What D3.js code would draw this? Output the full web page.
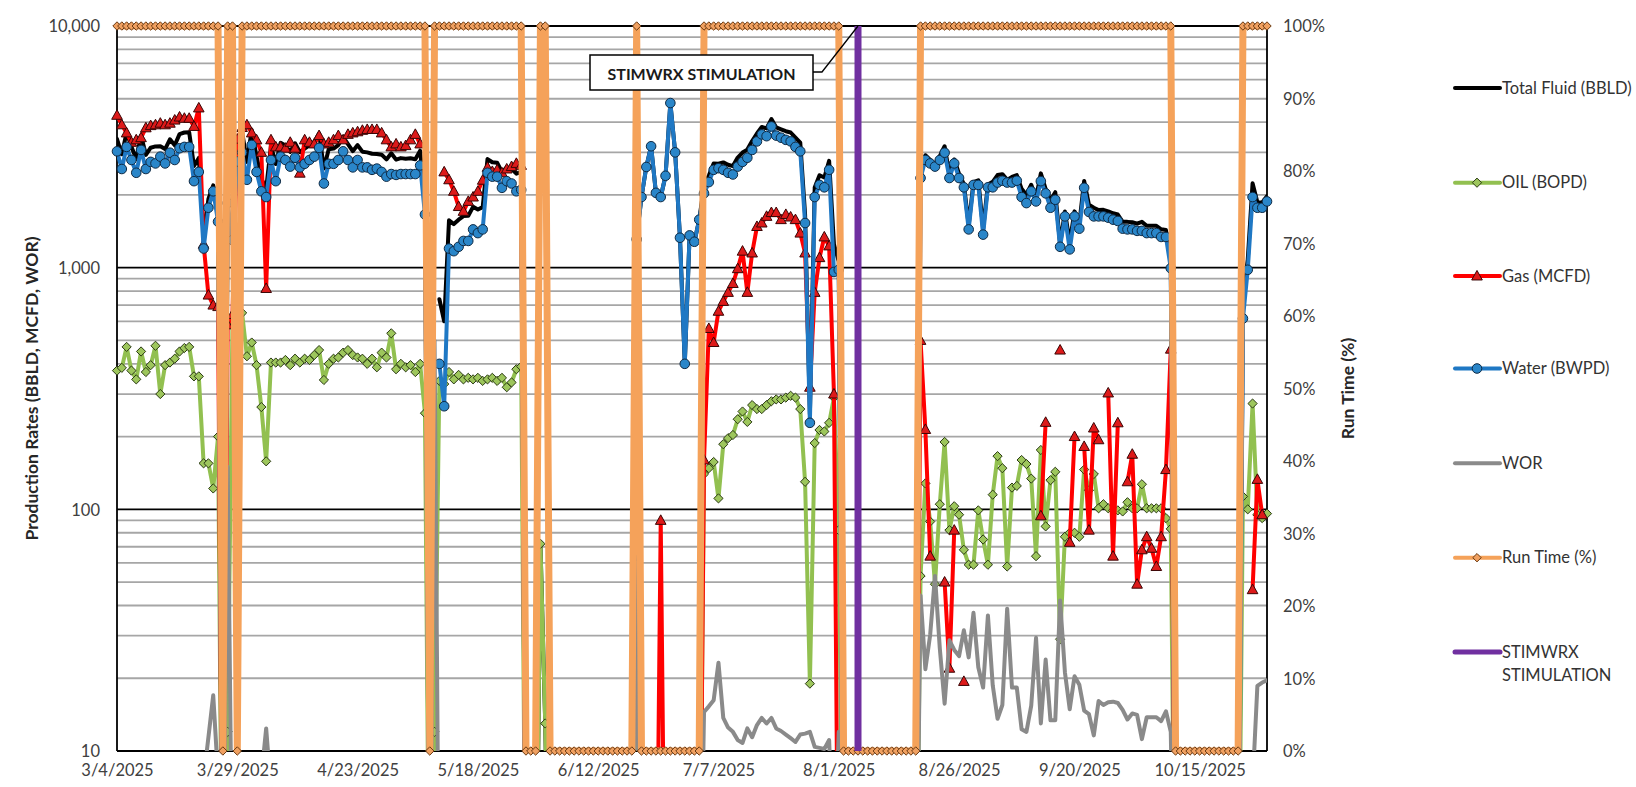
<!DOCTYPE html>
<html>
<head>
<meta charset="utf-8">
<script src="https://cdn.jsdelivr.net/npm/d3@7"></script>
<style>
  html, body { margin: 0; padding: 0; background: #ffffff; }
  svg { display: block; font-family: Lato, "Open Sans", "DejaVu Sans", sans-serif; }
</style>
</head>
<body>
<svg id="chart" width="1636" height="787"></svg>
<script>
// ---- Daily well test data, 3/4/2025 through 10/29/2025 (one value per day) ----
const startDate = "2025-03-04";
const endDate = "2025-10-29";
const stimDate = "2025-08-05";
const stimLabel = "STIMWRX STIMULATION";

const xTickLabels = ["3/4/2025", "3/29/2025", "4/23/2025", "5/18/2025", "6/12/2025",
                     "7/7/2025", "8/1/2025", "8/26/2025", "9/20/2025", "10/15/2025"];
const yTickValues = [10, 100, 1000, 10000];
const y2TickValues = [0, 10, 20, 30, 40, 50, 60, 70, 80, 90, 100];

// null = no reading that day (line breaks)
const totalFluid = [
  3405, 2945, 3630, 3165, 2815, 3520, 2930, 3135, 3175, 3180,
  3095, 3395, 3210, 3570, 3625, 3630, 2635, 2845, 1355, 1925,
  2190, 1750, 0, 1860, 1900, 3370, 3650, 2740, 3710, 2885,
  2335, 2120, 3195, 2685, 3285, 3205, 3015, 3270, 3005, 3110,
  3205, 3315, 3590, 2575, 3090, 3110, 3215, 3475, 3245, 3035,
  3215, 3020, 3000, 2960, 2955, 2935, 2805, 2975, 2800, 2840,
  2825, 2835, 2810, 3050, 1910, 0, null, 740, 600, 1570,
  1515, 1580, 1635, 1640, 1785, 1740, 1780, 2815, 2730, 2720,
  2490, 2600, 2565, 2450, 2490, 0, 0, 0, 72, 13,
  0, 0, 0, 0, 0, 0, 0, 0, 0, 0,
  0, 0, 0, 0, 0, 0, 0, 0, 1332, 1960,
  2610, 3180, 2040, 1960, 2400, 4800, 3000, 1330, 400, 1360,
  1280, 1580, 2170, 2408, 2697, 2691, 2726, 2667, 2633, 2856,
  2994, 3080, 3340, 3590, 3820, 3770, 4120, 3805, 3735, 3670,
  3625, 3450, 3290, 1660, 247, 2148, 2413, 2360, 2768, 1250,
  1062, 0, 0, 0, 0, 0, 0, 0, 0, 0,
  0, 0, 0, 0, 0, 0, 0, 2403, 2918, 2789,
  2669, 2895, 3180, 2432, 2803, 2445, 2218, 1499, 2259, 2299,
  1445, 2209, 2265, 2416, 2438, 2308, 2373, 2415, 2120, 2004,
  2204, 1944, 2456, 2115, 1902, 2053, 1249, 1707, 1270, 1710,
  1527, 2286, 1820, 1770, 1731, 1735, 1711, 1679, 1659, 1548,
  1547, 1541, 1521, 1547, 1491, 1491, 1491, 1441, 1432, 1078,
  0, 0, 0, 0, 0, 0, 0, 0, 0, 0,
  0, 0, 0, 0, 729, 1080, 2234, 1865, 1862, 1976
];

const oilBOPD = [
  375, 385, 470, 375, 345, 450, 370, 395, 475, 300,
  395, 405, 420, 450, 465, 470, 355, 355, 155, 155,
  122, 200, 0, 12, 600, 620, 650, 430, 490, 395,
  265, 158, 405, 405, 405, 415, 395, 420, 405, 420,
  415, 435, 456, 343, 400, 420, 425, 445, 456, 435,
  425, 420, 400, 420, 387, 445, 425, 535, 380, 400,
  387, 395, 370, 400, 250, 0, 12, 340, 330, 370,
  345, 360, 345, 350, 345, 350, 340, 345, 350, 340,
  350, 320, 335, 380, 390, 0, 0, 0, 72, 13,
  0, 0, 0, 0, 0, 0, 0, 0, 0, 0,
  0, 0, 0, 0, 0, 0, 0, 0, 22, 0,
  0, 0, 0, 0, 0, 0, 0, 0, 0, 0,
  0, 0, 140, 148, 157, 111, 186, 197, 203, 236,
  254, 230, 270, 260, 260, 270, 280, 285, 285, 290,
  295, 290, 260, 130, 19, 188, 213, 210, 228, 290,
  82, 0, 0, 0, 0, 0, 0, 0, 0, 0,
  0, 0, 0, 0, 0, 0, 0, 53, 128, 89,
  49, 105, 190, 82, 103, 95, 68, 59, 59, 99,
  75, 59, 115, 166, 148, 58, 123, 125, 160, 154,
  134, 64, 176, 85, 132, 143, 29, 77, 80, 80,
  77, 146, 120, 140, 101, 105, 101, 99, 99, 98,
  107, 101, 101, 127, 101, 101, 101, 101, 92, 83,
  0, 0, 0, 0, 0, 0, 0, 0, 0, 0,
  0, 0, 0, 0, 113, 100, 274, 95, 92, 96
];

const gasMCFD = [
  4270, 3900, 3610, 3300, 3380, 3450, 3790, 3870, 3900, 3960,
  3900, 3960, 4080, 4200, 4150, 4150, 3840, 4580, 1250, 770,
  700, 690, 0, 580, 640, 3400, 3800, 3900, 3610, 3380,
  3000, 820, 3380, 3160, 3160, 3120, 3300, 3120, 2460, 3380,
  3300, 3250, 3520, 3250, 3300, 3380, 3520, 3380, 3560, 3610,
  3650, 3700, 3730, 3730, 3730, 3610, 3380, 3160, 3250, 3160,
  3200, 3380, 3560, 3250, null, null, null, null, 2490, 2310,
  2070, 1790, 1710, 1880, 1960, 2070, 2300, 2600, 2500, 2540,
  2470, 2560, 2620, 2700, 2650, 0, 0, 0, 0, 0,
  0, 0, 0, 0, 0, 0, 0, 0, 0, 0,
  0, 0, 0, 0, 0, 0, 0, 0, 0, 0,
  0, 0, 0, 90, 0, 0, 0, 0, 0, 0,
  0, 0, 160, 560, 490, 660, 725, 790, 860, 990,
  1170, 790, 1150, 1480, 1530, 1630, 1690, 1690, 1580, 1660,
  1620, 1580, 1390, 1150, 320, 790, 1100, 1340, 1230, 300,
  0, 0, 0, 0, 0, 0, 0, 0, 0, 0,
  0, 0, 0, 0, 0, 0, 0, 500, 214, 64,
  null, null, 50, 22, 82, null, 19.4, null, null, null,
  null, null, null, null, null, null, null, null, null, null,
  null, null, 94, 229, null, null, 456, null, 73, 200,
  null, 182, 82, 217, 194, null, 303, 64, 228, null,
  130, 169, 49, 68, 77, 69, 58, 77, 146, 460,
  0, 0, 0, 0, 0, 0, 0, 0, 0, 0,
  0, 0, 0, 0, null, null, 46.5, 133, 95, null
];

const waterBWPD = [
  3030, 2560, 3160, 2790, 2470, 3070, 2560, 2740, 2700, 2880,
  2700, 2990, 2790, 3120, 3160, 3160, 2280, 2490, 1200, 1770,
  2070, 1550, 0, 1850, 1300, 2750, 3000, 2310, 3220, 2490,
  2070, 1960, 2790, 2280, 2880, 2790, 2620, 2850, 2600, 2690,
  2790, 2880, 3130, 2230, 2690, 2690, 2790, 3030, 2790, 2600,
  2790, 2600, 2600, 2540, 2570, 2490, 2380, 2440, 2420, 2440,
  2440, 2440, 2440, 2650, 1660, 0, null, 400, 267, 1200,
  1170, 1220, 1290, 1290, 1440, 1390, 1440, 2470, 2380, 2380,
  2140, 2280, 2230, 2070, 2100, 0, 0, 0, 0, 0,
  0, 0, 0, 0, 0, 0, 0, 0, 0, 0,
  0, 0, 0, 0, 0, 0, 0, 0, 1310, 1960,
  2610, 3180, 2040, 1960, 2400, 4800, 3000, 1330, 400, 1360,
  1280, 1580, 2030, 2260, 2540, 2580, 2540, 2470, 2430, 2620,
  2740, 2850, 3070, 3330, 3560, 3500, 3840, 3520, 3450, 3380,
  3330, 3160, 3030, 1530, 228, 1960, 2200, 2150, 2540, 960,
  980, 0, 0, 0, 0, 0, 0, 0, 0, 0,
  0, 0, 0, 0, 0, 0, 0, 2350, 2790, 2700,
  2620, 2790, 2990, 2350, 2700, 2350, 2150, 1440, 2200, 2200,
  1370, 2150, 2150, 2250, 2290, 2250, 2250, 2290, 1960, 1850,
  2070, 1880, 2280, 2030, 1770, 1910, 1220, 1630, 1190, 1630,
  1450, 2140, 1700, 1630, 1630, 1630, 1610, 1580, 1560, 1450,
  1440, 1440, 1420, 1420, 1390, 1390, 1390, 1340, 1340, 995,
  0, 0, 0, 0, 0, 0, 0, 0, 0, 0,
  0, 0, 0, 0, 616, 980, 1960, 1770, 1770, 1880
];

const worRatio = [
  8.1, 6.6, 6.7, 7.4, 7.2, 6.8, 6.9, 6.9, 5.7, 9.6,
  6.8, 7.4, 6.6, 6.9, 6.8, 6.7, 6.4, 7.0, 7.7, 11.4,
  17, 7.8, 0, 150, 2.2, 4.4, 4.6, 5.4, 6.6, 6.3,
  7.8, 12.4, 6.9, 5.6, 7.1, 6.7, 6.6, 6.8, 6.4, 6.4,
  6.7, 6.6, 6.9, 6.5, 6.7, 6.4, 6.6, 6.8, 6.1, 6.0,
  6.6, 6.2, 6.5, 6.0, 6.6, 5.6, 5.6, 4.6, 6.4, 6.1,
  6.3, 6.2, 6.6, 6.6, 6.6, 0, 500, 1.2, 0.8, 3.2,
  3.4, 3.4, 3.7, 3.7, 4.2, 4.0, 4.2, 7.2, 6.8, 7.0,
  6.1, 7.1, 6.7, 5.4, 5.4, 0, 0, 0, 0, 0,
  0, 0, 0, 0, 0, 0, 0, 0, 0, 0,
  0, 0, 0, 0, 0, 0, 0, 0, 60, 0,
  0, 0, 0, 0, 0, 0, 0, 0, 0, 0,
  0, 0, 14.5, 15.3, 16.2, 23.2, 13.7, 12.5, 12.0, 11.1,
  10.8, 12.4, 11.4, 12.8, 13.7, 13.0, 13.7, 12.4, 12.1, 11.7,
  11.3, 10.9, 11.7, 11.8, 12.0, 10.4, 10.3, 10.2, 11.1, 3.3,
  12.0, 0, 0, 0, 0, 0, 0, 0, 0, 0,
  0, 0, 0, 0, 0, 0, 0, 44, 21.8, 30.3,
  53, 26.6, 15.7, 28.7, 26.2, 24.7, 31.6, 24.4, 37.3, 22.2,
  18.3, 36.4, 18.7, 13.6, 15.5, 38.8, 18.3, 18.3, 12.3, 12.0,
  15.4, 29.4, 13.0, 23.9, 13.4, 13.4, 42, 21.2, 14.9, 20.4,
  18.8, 14.7, 14.2, 11.6, 16.1, 15.5, 15.9, 16.0, 15.8, 14.8,
  13.5, 14.3, 14.1, 11.2, 13.8, 13.8, 13.8, 13.3, 14.6, 12.0,
  0, 0, 0, 0, 0, 0, 0, 0, 0, 0,
  0, 0, 0, 0, 5.5, 9.8, 7.2, 18.6, 19.2, 19.6
];

const runTimePct = [
  100, 100, 100, 100, 100, 100, 100, 100, 100, 100,
  100, 100, 100, 100, 100, 100, 100, 100, 100, 100,
  100, 100, 0, 100, 100, 0, 100, 100, 100, 100,
  100, 100, 100, 100, 100, 100, 100, 100, 100, 100,
  100, 100, 100, 100, 100, 100, 100, 100, 100, 100,
  100, 100, 100, 100, 100, 100, 100, 100, 100, 100,
  100, 100, 100, 100, 100, 0, 100, 100, 100, 100,
  100, 100, 100, 100, 100, 100, 100, 100, 100, 100,
  100, 100, 100, 100, 100, 0, 0, 0, 100, 100,
  0, 0, 0, 0, 0, 0, 0, 0, 0, 0,
  0, 0, 0, 0, 0, 0, 0, 0, 100, 0,
  0, 0, 0, 0, 0, 0, 0, 0, 0, 0,
  0, 0, 100, 100, 100, 100, 100, 100, 100, 100,
  100, 100, 100, 100, 100, 100, 100, 100, 100, 100,
  100, 100, 100, 100, 100, 100, 100, 100, 100, 100,
  100, 0, 0, 0, 0, 0, 0, 0, 0, 0,
  0, 0, 0, 0, 0, 0, 0, 100, 100, 100,
  100, 100, 100, 100, 100, 100, 100, 100, 100, 100,
  100, 100, 100, 100, 100, 100, 100, 100, 100, 100,
  100, 100, 100, 100, 100, 100, 100, 100, 100, 100,
  100, 100, 100, 100, 100, 100, 100, 100, 100, 100,
  100, 100, 100, 100, 100, 100, 100, 100, 100, 100,
  0, 0, 0, 0, 0, 0, 0, 0, 0, 0,
  0, 0, 0, 0, 100, 100, 100, 100, 100, 100
];
const stimPct = [0, 100];

// ---- Layout ----
const plot = { left: 117, right: 1267, top: 26, bottom: 751 };
const FONT = 'Lato, "Open Sans", "DejaVu Sans", sans-serif';

const parseDay = d3.utcParse("%Y-%m-%d");
const parseTick = d3.utcParse("%m/%d/%Y");
const t0 = parseDay(startDate);
const dates = oilBOPD.map((_, i) => d3.utcDay.offset(t0, i));

const x = d3.scaleUtc().domain([t0, parseDay(endDate)]).range([plot.left, plot.right]);
const y = d3.scaleLog().domain([10, 10000]).range([plot.bottom, plot.top]);
const y2 = d3.scaleLinear().domain([0, 100]).range([plot.bottom, plot.top]);

// Zero readings sit a decade below the axis floor, so their segments run off the bottom edge
const yVal = v => y(v > 0 ? v : 1);

const svg = d3.select("#chart");

svg.append("defs").append("clipPath").attr("id", "plotClip")
  .append("rect")
  .attr("x", plot.left).attr("y", plot.top)
  .attr("width", plot.right - plot.left).attr("height", plot.bottom - plot.top);

// ---- Gridlines ----
const gridG = svg.append("g");
const logTicks = y.ticks();
gridG.selectAll("line.minor")
  .data(logTicks.filter(v => !yTickValues.includes(v)))
  .join("line")
  .attr("x1", plot.left).attr("x2", plot.right)
  .attr("y1", d => y(d)).attr("y2", d => y(d))
  .attr("stroke", "#a6a6a6").attr("stroke-width", 1.8);
gridG.selectAll("line.major")
  .data(yTickValues)
  .join("line")
  .attr("x1", plot.left).attr("x2", plot.right)
  .attr("y1", d => y(d)).attr("y2", d => y(d))
  .attr("stroke", "#000").attr("stroke-width", 1.8);

// Plot frame (left and right value axes)
gridG.append("line").attr("x1", plot.left).attr("x2", plot.left)
  .attr("y1", plot.top).attr("y2", plot.bottom).attr("stroke", "#000").attr("stroke-width", 1.8);
gridG.append("line").attr("x1", plot.right).attr("x2", plot.right)
  .attr("y1", plot.top).attr("y2", plot.bottom).attr("stroke", "#000").attr("stroke-width", 1.8);

// ---- Axis labels ----
const styleTicks = g => g.selectAll("text")
  .attr("font-family", FONT).attr("font-size", 16.5).attr("fill", "#404040");

const yAxis = d3.axisLeft(y).tickValues(yTickValues).tickFormat(d3.format(",")).tickSize(0).tickPadding(0);
svg.append("g").attr("transform", `translate(100,0)`).call(yAxis)
  .call(g => g.select(".domain").remove())
  .call(styleTicks)
  .call(g => g.selectAll("text").attr("dy", "0.35em"));

const y2Axis = d3.axisRight(y2).tickValues(y2TickValues).tickFormat(d => d + "%").tickSize(0).tickPadding(0);
svg.append("g").attr("transform", `translate(1283,0)`).call(y2Axis)
  .call(g => g.select(".domain").remove())
  .call(styleTicks)
  .call(g => g.selectAll("text").attr("dy", "0.35em"));

const xAxis = d3.axisBottom(x).tickValues(xTickLabels.map(parseTick))
  .tickFormat(d => `${d.getUTCMonth() + 1}/${d.getUTCDate()}/${d.getUTCFullYear()}`)
  .tickSize(0).tickPadding(0);
svg.append("g").attr("transform", `translate(0,${plot.bottom + 13})`).call(xAxis)
  .call(g => g.select(".domain").remove())
  .call(styleTicks)
  .call(g => g.selectAll("text").attr("dy", "0.7em"));

// Axis titles
svg.append("text")
  .attr("transform", `translate(31,${(plot.top + plot.bottom) / 2}) rotate(-90)`)
  .attr("text-anchor", "middle").attr("dominant-baseline", "central")
  .attr("font-family", FONT).attr("font-size", 17.5).attr("font-weight", "bold").attr("fill", "#262626")
  .text("Production Rates (BBLD, MCFD, WOR)");
svg.append("text")
  .attr("transform", `translate(1347,${(plot.top + plot.bottom) / 2}) rotate(-90)`)
  .attr("text-anchor", "middle").attr("dominant-baseline", "central")
  .attr("font-family", FONT).attr("font-size", 17.5).attr("font-weight", "bold").attr("fill", "#262626")
  .text("Run Time (%)");

// ---- Marker shapes ----
const diamondPath = r => `M0,${-r}L${r},0L0,${r}L${-r},0Z`;
const trianglePath = s => `M0,${-s * 1.05}L${s},${s * 0.75}L${-s},${s * 0.75}Z`;

// ---- Series on the primary (log) axis ----
const series = [
  { name: "Total Fluid (BBLD)", values: totalFluid, color: "#000000", width: 4, marker: null },
  { name: "OIL (BOPD)", values: oilBOPD, color: "#92c050", width: 4,
    marker: { path: diamondPath(4.6), fill: "#9dc65c", stroke: "#2b3a14" } },
  { name: "Gas (MCFD)", values: gasMCFD, color: "#ff0000", width: 4,
    marker: { path: trianglePath(5.3), fill: "#dd1a1a", stroke: "#3a0505" } },
  { name: "Water (BWPD)", values: waterBWPD, color: "#1f78c4", width: 4,
    marker: { circle: 4.8, fill: "#2a86c9", stroke: "#0f2a44" } },
  { name: "WOR", values: worRatio, color: "#8a8a8a", width: 4, marker: null }
];

const seriesG = svg.append("g");
series.forEach(s => {
  const pts = s.values.map((v, i) => ({ date: dates[i], v }));
  const line = d3.line().defined(d => d.v !== null)
    .x(d => x(d.date)).y(d => yVal(d.v));
  seriesG.append("path")
    .attr("clip-path", "url(#plotClip)")
    .attr("d", line(pts))
    .attr("fill", "none").attr("stroke", s.color).attr("stroke-width", s.width)
    .attr("stroke-linejoin", "round").attr("stroke-linecap", "round");
  if (s.marker) {
    const shown = pts.filter(d => d.v !== null && d.v >= 10 && d.v <= 10000);
    if (s.marker.circle) {
      seriesG.append("g").selectAll("circle").data(shown).join("circle")
        .attr("cx", d => x(d.date)).attr("cy", d => y(d.v)).attr("r", s.marker.circle)
        .attr("fill", s.marker.fill).attr("stroke", s.marker.stroke).attr("stroke-width", 1);
    } else {
      seriesG.append("g").selectAll("path").data(shown).join("path")
        .attr("transform", d => `translate(${x(d.date)},${y(d.v)})`)
        .attr("d", s.marker.path)
        .attr("fill", s.marker.fill).attr("stroke", s.marker.stroke).attr("stroke-width", 1);
    }
  }
});

// ---- Run time on the secondary axis ----
const runPts = runTimePct.map((v, i) => ({ date: dates[i], v }));
seriesG.append("path")
  .attr("clip-path", "url(#plotClip)")
  .attr("d", d3.line().x(d => x(d.date)).y(d => y2(d.v))(runPts))
  .attr("fill", "none").attr("stroke", "#f5a25a").attr("stroke-width", 7)
  .attr("stroke-linejoin", "round");
seriesG.append("g").selectAll("path").data(runPts).join("path")
  .attr("transform", d => `translate(${x(d.date)},${y2(d.v)})`)
  .attr("d", diamondPath(4.2))
  .attr("fill", "#f0a060").attr("stroke", "#6a3a12").attr("stroke-width", 1);

// Stimulation marker line (secondary axis, 0% to 100%)
const stimX = x(parseDay(stimDate));
seriesG.append("line")
  .attr("x1", stimX).attr("x2", stimX)
  .attr("y1", y2(stimPct[0])).attr("y2", y2(stimPct[1]))
  .attr("stroke", "#7030a0").attr("stroke-width", 7);

// Callout for the stimulation
const callout = svg.append("g");
callout.append("polyline")
  .attr("points", `813,72 822,72 ${stimX},${y2(100)}`)
  .attr("fill", "none").attr("stroke", "#000").attr("stroke-width", 1.3);
callout.append("rect")
  .attr("x", 590).attr("y", 55).attr("width", 223).attr("height", 35)
  .attr("fill", "#fff").attr("stroke", "#000").attr("stroke-width", 1.5);
callout.append("text")
  .attr("x", 701.5).attr("y", 73)
  .attr("text-anchor", "middle").attr("dominant-baseline", "central")
  .attr("font-family", FONT).attr("font-size", 16).attr("font-weight", "bold").attr("fill", "#1a1a1a")
  .text(stimLabel);

// ---- Legend ----
const legendItems = [
  { label: ["Total Fluid (BBLD)"], y: 88, color: "#000000", width: 4, marker: null },
  { label: ["OIL (BOPD)"], y: 182.7, color: "#92c050", width: 4, marker: "oil" },
  { label: ["Gas (MCFD)"], y: 276, color: "#ff0000", width: 4, marker: "gas" },
  { label: ["Water (BWPD)"], y: 368.5, color: "#1f78c4", width: 4, marker: "water" },
  { label: ["WOR"], y: 463.3, color: "#8a8a8a", width: 4, marker: null },
  { label: ["Run Time (%)"], y: 557.7, color: "#f5a25a", width: 4, marker: "run" },
  { label: ["STIMWRX", "STIMULATION"], y: 652, color: "#7030a0", width: 5, marker: null }
];
const legend = svg.append("g");
legendItems.forEach(it => {
  const g = legend.append("g");
  g.append("line").attr("x1", 1455).attr("x2", 1500).attr("y1", it.y).attr("y2", it.y)
    .attr("stroke", it.color).attr("stroke-width", it.width).attr("stroke-linecap", "round");
  if (it.marker === "oil") {
    g.append("path").attr("transform", `translate(1477,${it.y})`).attr("d", diamondPath(4.6))
      .attr("fill", "#9dc65c").attr("stroke", "#2b3a14");
  } else if (it.marker === "gas") {
    g.append("path").attr("transform", `translate(1477,${it.y})`).attr("d", trianglePath(5.3))
      .attr("fill", "#dd1a1a").attr("stroke", "#3a0505");
  } else if (it.marker === "water") {
    g.append("circle").attr("cx", 1477).attr("cy", it.y).attr("r", 4.8)
      .attr("fill", "#2a86c9").attr("stroke", "#0f2a44");
  } else if (it.marker === "run") {
    g.append("path").attr("transform", `translate(1477,${it.y})`).attr("d", diamondPath(4.2))
      .attr("fill", "#f0a060").attr("stroke", "#6a3a12");
  }
  const t = g.append("text").attr("font-family", FONT).attr("font-size", 16.5).attr("fill", "#333");
  it.label.forEach((ln, k) => {
    t.append("tspan").attr("x", 1502).attr("y", it.y + k * 23.5).attr("dy", "0.35em").text(ln);
  });
});
</script>
</body>
</html>
